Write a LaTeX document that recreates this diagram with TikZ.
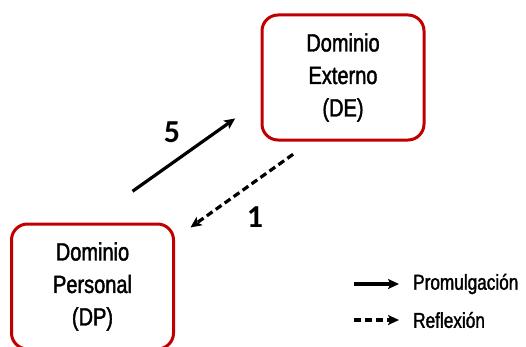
\documentclass[tikz,border=0pt]{standalone}
\usepackage{fontspec}
\setmainfont{Liberation Sans}[FakeStretch=0.8, FakeBold=1.6]
\newfontfamily\numfont{Carlito}
\usetikzlibrary{arrows.meta, positioning}
\definecolor{domred}{RGB}{192,0,0}

\begin{document}
\begin{tikzpicture}[
        x=1pt, y=1pt,
        dombox/.style={draw=domred, line width=3pt, rounded corners=16pt,
                     minimum width=162pt, minimum height=125pt, align=center,
                     font=\fontsize{25}{32.5}\selectfont},
        promu/.style={-{Stealth[length=11pt, width=10pt, inset=2.5pt]}, line width=3.2pt},
        reflex/.style={promu, dash pattern=on 7pt off 4pt},
        numlabel/.style={font=\numfont\bfseries\fontsize{32}{32}\selectfont},
        legtext/.style={anchor=west, inner sep=0pt, font=\fontsize{21.5}{24}\selectfont}
    ]
        \clip (0,0) rectangle (526,346);
        \useasboundingbox (0,0) rectangle (526,346);

        \node[dombox] (de) at (343,268.5) {Dominio\\Externo\\(DE)};
        \node[dombox] (dp) at (92.5,59.5) {Dominio\\Personal\\(DP)};

        \draw[promu, shorten <=54pt, shorten >=31pt] ([xshift=-4pt]dp.north) -- ([yshift=-23pt]de.west);
        \draw[reflex, shorten <=22pt, shorten >=19pt] ([xshift=-32pt]de.south) -- ([yshift=48pt]dp.east);

        \node[numlabel] (five) at (172,214) {5};
        \node[numlabel] (one) at (255,129) {1};

        % legend
        \node[legtext] (promleg) at (413,62) {Promulgación};
        \node[legtext] (reflleg) at (413,26) {Reflexión};
        \draw[promu] ([xshift=-59pt]promleg.west) -- ([xshift=-14pt]promleg.west);
        \draw[reflex] ([xshift=-59pt]reflleg.west) -- ([xshift=-14pt]reflleg.west);
    \end{tikzpicture}
\end{document}
